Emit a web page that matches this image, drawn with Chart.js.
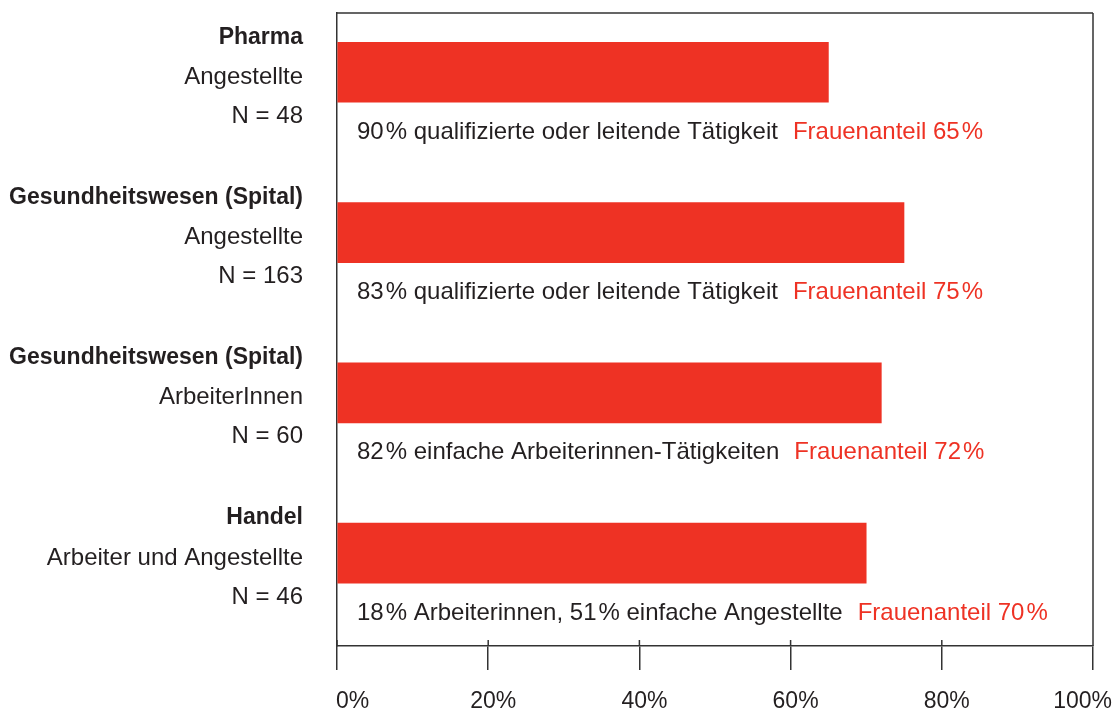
<!DOCTYPE html>
<html>
<head>
<meta charset="utf-8">
<script src="https://cdn.jsdelivr.net/npm/chart.js@4/dist/chart.umd.min.js"></script>
<style>
  html, body { margin: 0; padding: 0; background: #fff; overflow: hidden; }
  #wrap { width: 1117px; height: 711px; position: relative; }
</style>
</head>
<body>
<div id="wrap"><canvas id="c"></canvas></div>
<script>
// ---- data ----
const sectors = ["Pharma", "Gesundheitswesen (Spital)", "Gesundheitswesen (Spital)", "Handel"];
const groups = ["Angestellte", "Angestellte", "ArbeiterInnen", "Arbeiter und Angestellte"];
const sampleSizes = [48, 163, 60, 46];
const activityNotes = [
  "90\u200a% qualifizierte oder leitende Tätigkeit",
  "83\u200a% qualifizierte oder leitende Tätigkeit",
  "82\u200a% einfache Arbeiterinnen-Tätigkeiten",
  "18\u200a% Arbeiterinnen, 51\u200a% einfache Angestellte"
];
const womenShare = [65, 75, 72, 70];
const xTicks = [0, 20, 40, 60, 80, 100];

const RED = "rgb(238,50,36)";
const INK = "#231f20";
const FONT = "'Liberation Sans', Arial, Helvetica, sans-serif";
const FS = 24;
const FSB = 23;
const FST = 23;

const framePlugin = {
  id: "frame",
  afterDraw(chart) {
    const ctx = chart.ctx;
    const a = chart.chartArea;
    const xs = chart.scales.x, ys = chart.scales.y;
    ctx.save();
    ctx.strokeStyle = "#333";
    ctx.lineWidth = 1.5;
    ctx.beginPath();
    ctx.moveTo(a.left, a.top); ctx.lineTo(a.right, a.top);
    ctx.moveTo(a.right, a.top); ctx.lineTo(a.right, a.bottom);
    xTicks.forEach(v => {
      const px = xs.getPixelForValue(v);
      ctx.moveTo(px, a.bottom - 6); ctx.lineTo(px, a.bottom);
    });
    ctx.stroke();

    // x tick labels
    ctx.font = FST + "px " + FONT;
    ctx.fillStyle = INK;
    ctx.textBaseline = "middle";
    ctx.textAlign = "left";
    xTicks.forEach(v => {
      const t = v + "%";
      const w = ctx.measureText(t).width;
      const px = xs.getPixelForValue(v);
      let left = px + 5 - w / 2;
      if (left < a.left - 1) left = a.left - 1;
      if (left + w > chart.width - 5) left = chart.width - 5 - w;
      ctx.fillText(t, left, a.bottom + 56);
    });

    // category labels and notes
    sectors.forEach((s, i) => {
      const cy = ys.getPixelForValue(i);
      ctx.textAlign = "right";
      ctx.fillStyle = INK;
      ctx.font = "bold " + FSB + "px " + FONT;
      ctx.fillText(s, a.left - 34, cy - 35);
      ctx.font = FS + "px " + FONT;
      ctx.fillText(groups[i], a.left - 34, cy + 5);
      ctx.fillText("N = " + sampleSizes[i], a.left - 34, cy + 44);

      ctx.textAlign = "left";
      const x0 = a.left + 20;
      ctx.fillText(activityNotes[i], x0, cy + 60);
      const w = ctx.measureText(activityNotes[i]).width;
      ctx.fillStyle = RED;
      ctx.fillText("Frauenanteil " + womenShare[i] + "\u200a%", x0 + w + 15, cy + 60);
    });
    ctx.restore();
  }
};

new Chart(document.getElementById("c"), {
  type: "bar",
  data: {
    datasets: [{
      label: "Frauenanteil",
      data: womenShare.map((v, i) => ({ x: v, y: i })),
      backgroundColor: RED,
      borderWidth: 0,
      barThickness: 60
    }]
  },
  options: {
    indexAxis: "y",
    responsive: true,
    maintainAspectRatio: false,
    animation: false,
    layout: { padding: { left: 337, top: 13, right: 24, bottom: 41 } },
    plugins: { legend: { display: false }, tooltip: { enabled: false } },
    scales: {
      x: {
        type: "linear",
        min: 0, max: 100,
        ticks: { display: false, stepSize: 20 },
        grid: { display: true, drawOnChartArea: false, drawTicks: true, tickLength: 24, color: "#333", lineWidth: 1.5 },
        border: { display: true, color: "#333", width: 1.5 }
      },
      y: {
        type: "linear",
        reverse: true,
        offset: false,
        bounds: "data",
        min: -0.37, max: 3.58,
        ticks: { display: false, stepSize: 1 },
        grid: { display: false, drawTicks: false },
        border: { display: true, color: "#333", width: 1.5 }
      }
    }
  },
  plugins: [framePlugin]
});
</script>
</body>
</html>
